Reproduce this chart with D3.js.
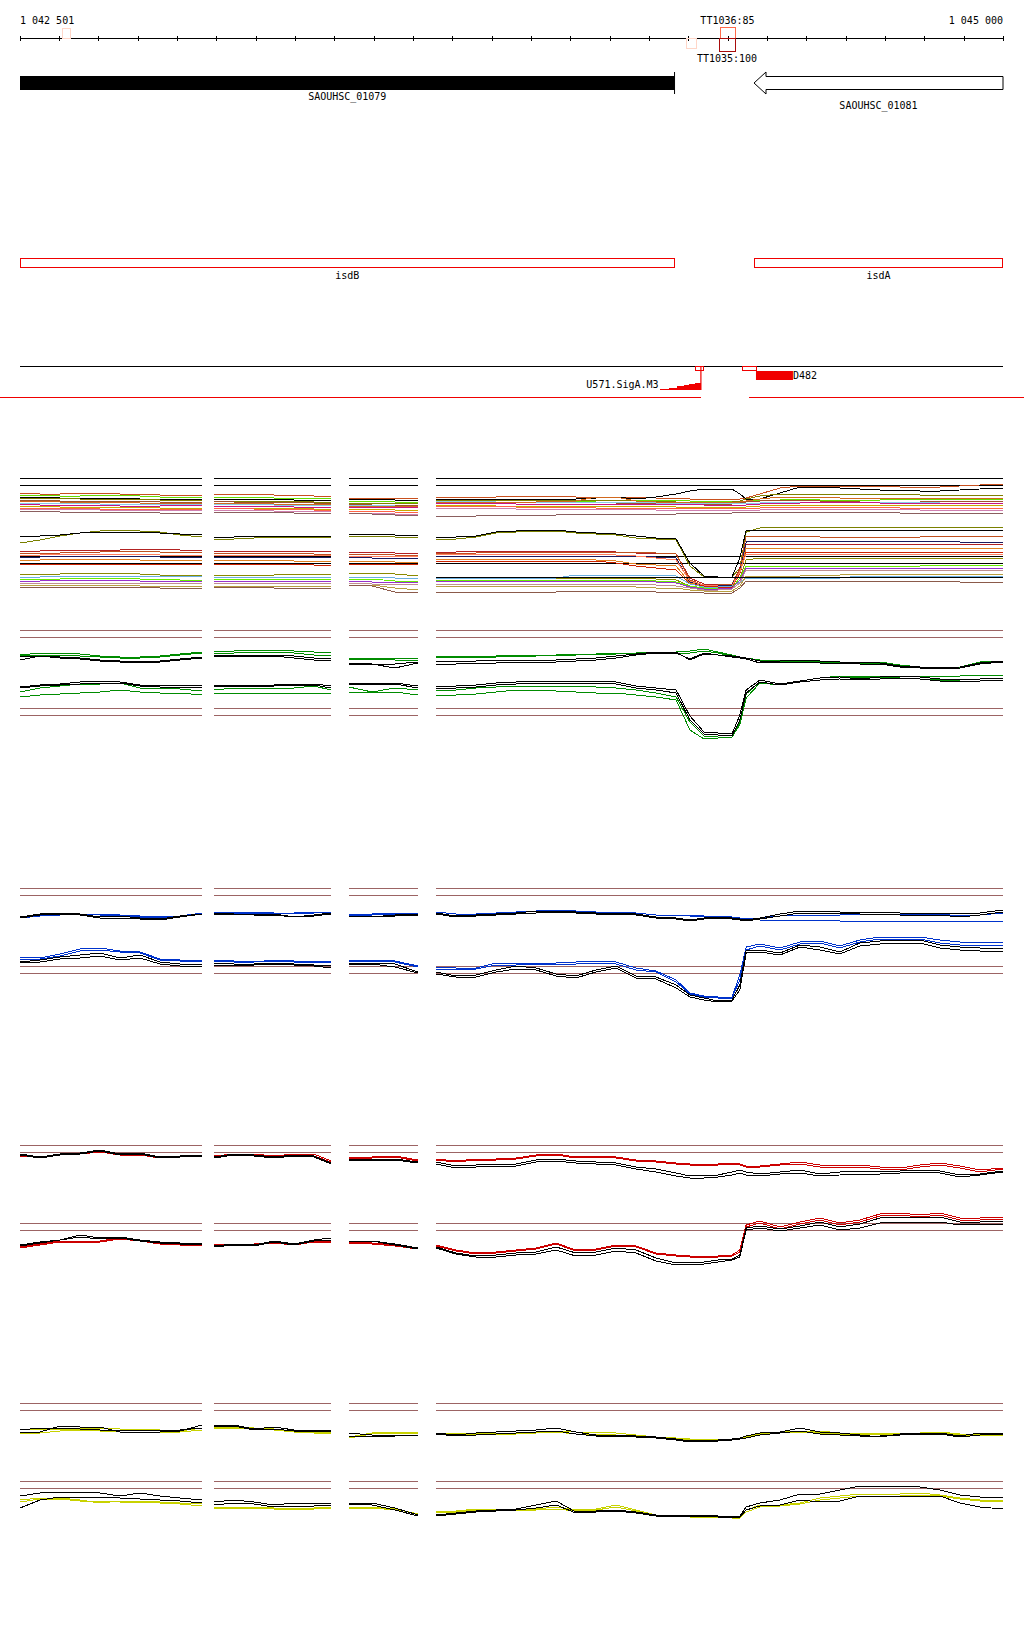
<!DOCTYPE html>
<html><head><meta charset="utf-8">
<script src="https://cdn.jsdelivr.net/npm/d3@7"></script>
<style>
body{margin:0;background:#fff}
svg{display:block}
text{font-family:"DejaVu Sans Mono",monospace;font-size:10px;fill:#000}
</style>
</head><body>
<svg id="c" width="1024" height="1640"></svg>
<script>
// ---------- genomic axis ----------
const axisStart = 1042501, axisEnd = 1045000;
const tickValues = [1042501].concat(d3.range(1042600, 1045001, 100));
const axisLabelPos = [1042501, 1045000];
const axisLabelText = ["1 042 501", "1 045 000"];

// ---------- annotations ----------
const geneNames = ["SAOUHSC_01079", "SAOUHSC_01081"];
const geneStarts = [1042501, 1044367];
const geneEnds = [1044165, 1045000];
const geneStrands = [1, -1];
const isdNames = ["isdB", "isdA"];
const termNames = ["TT1036:85", "TT1035:100"];
const termStarts = [1044280, 1044278];
const termEnds = [1044319, 1044319];
const termColors = ["#ff6a4a", "#a80c0c"];
const faintStarts = [1042608, 1044194];
const faintEnds = [1042628, 1044220];
const promoterName = "U571.SigA.M3";
const promoterSteps = [1044127, 1044150, 1044171, 1044188, 1044201, 1044218, 1044232];
const promoterScores = [1.4, 2.4, 3.7, 4.7, 6, 7];
const promoterBox = [1044217, 1044237];
const tssName = "D482";
const tssBox = [1044336, 1044372];
const tssBar = [1044372, 1044466];
const redGap = [1044232, 1044354];

// ---------- probe positions (bp) ----------
const positions = [
 1042501,1042552,1042603,1042654,1042704,1042755,1042806,1042857,1042908,1042964,
 1042994,1043045,1043096,1043147,1043198,1043248,1043292,
 1043337,1043396,1043454,1043513,
 1043559,1043609,1043660,1043711,1043762,1043813,1043864,1043914,1043965,1044016,
 1044067,1044118,1044169,1044204,1044240,1044275,1044311,1044331,1044347,1044382,
 1044433,1044484,1044535,1044585,1044636,1044687,1044738,1044789,1044840,1044890,
 1044941,1045000];
const segmentSizes = [10, 7, 4, 32];
const thresholds = [120, 113, 42, 35];

// ---------- group 1 : many conditions ----------
const multiColors = ["#c8501e","#66dd00","#000000","#808000","#a0522d","#87ceeb","#c71585","#c8a800","#ff6347","#d080b0","#8b5f5f","#d2691e",
 "#7a8000","#000000","#b22222","#c0501e","#1a1a5e","#e08020","#cc2200","#ff8060","#8a8a00","#6ab0e0","#66ee00","#9932cc","#c09090","#b8a040","#8b5a4a","#000000"];
const multiSeries = [
[105,104,104,105,105,104,104,103,103,103, 104,104,104,103,103,102,102, 100,100,100,99, 101,101,101,101,102,102,102,101,101,101,101,100,100,99,99,99,99,99,100,104,110,112,112,112,112,112,111,111,111,112,113,114],
[103,103,102,102,103,103,102,101,101,101, 101,101,101,100,100,100,100, 97,97,96,96, 98,98,98,98,98,97,97,97,97,98,98,98,98,97,97,97,97,97,97,98,98,99,98,98,98,98,99,99,99,99,99,99],
[101,101,100,100,100,100,99,99,99,99, 99,99,99,99,98,98,98, 99,99,98,98, 99,99,99,99,99,99,99,99,100,101,99,101,104,107,109,109,109,104,99,99,105,111,111,110,109,108,108,107,107,108,109,110],
[100,100,100,99,99,99,99,98,98,98, 97,97,97,97,97,96,96, 95,95,95,94, 98,98,98,98,98,98,98,98,98,98,97,97,96,95,95,95,96,97,99,102,104,104,104,104,104,104,104,103,103,103,103,103],
[98,98,97,97,97,97,97,96,96,96, 97,96,96,96,96,95,95, 94,93,93,93, 97,97,97,96,96,96,96,96,96,95,95,95,95,94,94,94,94,95,96,97,98,98,97,97,96,96,96,96,97,97,97,97],
[95,95,95,95,94,94,94,94,94,94, 94,94,94,93,93,93,93, 93,93,92,92, 97,97,97,96,96,96,96,96,96,96,96,95,95,95,95,95,95,95,95,95,96,96,96,96,96,96,96,96,95,95,95,95],
[94,93,93,93,93,92,92,92,93,93, 92,92,92,92,91,91,91, 91,91,91,90, 95,95,95,95,94,94,94,94,94,94,94,94,94,94,93,93,93,93,93,94,95,95,96,96,96,95,95,95,95,95,95,95],
[92,92,91,91,91,91,91,90,90,90, 90,90,90,90,90,89,89, 89,89,88,87, 93,93,93,92,92,92,92,92,92,92,92,92,91,91,91,91,91,91,91,92,93,93,93,93,93,93,93,93,93,93,93,93],
[90,90,90,90,89,89,89,89,89,89, 90,90,89,89,89,88,88, 87,87,86,86, 92,92,92,92,91,91,91,91,90,90,90,90,90,90,90,90,90,90,90,90,91,91,91,91,91,91,90,90,90,90,90,90],
[89,89,89,89,88,88,88,88,88,88, 88,88,88,87,87,87,87, 85,85,84,84, 90,90,90,90,89,89,89,89,89,89,89,88,88,88,88,88,88,88,88,88,89,89,89,89,89,89,89,88,88,88,88,88],
[87,87,86,86,86,86,86,85,85,85, 86,86,86,86,85,85,84, 85,84,83,83, 82,82,82,83,83,83,83,84,84,84,84,84,84,85,85,85,85,86,86,86,86,86,86,86,86,86,85,85,85,85,85,85],
[97,97,96,96,96,96,95,95,95,95, 95,95,95,94,94,94,94, 92,92,92,91, 96,96,96,96,96,96,97,97,101,101,97,96,96,96,96,96,96,96,97,99,101,101,101,100,100,100,100,100,100,100,100,100],
[55,58,62,65,67,68,67,66,63,61, 58,59,60,61,61,61,61, 62,62,61,60, 59,59,61,65,66,67,67,65,64,63,60,59,58,32,21,21,21,30,66,70,71,71,71,71,71,71,71,71,71,71,71,71],
[62,62,63,65,66,66,66,65,64,63, 61,61,62,62,62,62,62, 64,64,63,63, 61,61,62,66,67,68,68,66,65,64,62,60,59,35,22,21,21,40,68,68,68,68,68,68,68,68,68,68,68,68,68,68],
[46,47,48,48,48,48,49,49,48,48, 47,47,47,47,47,47,47, 46,46,45,45, 46,46,47,47,47,47,47,47,47,46,45,45,44,20,14,14,14,30,54,54,54,54,54,54,54,54,54,54,54,54,54,54],
[44,45,45,46,46,47,47,46,46,45, 45,45,45,45,45,44,44, 44,44,43,43, 45,45,45,46,46,46,46,46,46,46,46,45,44,18,13,13,14,28,62,62,62,62,61,61,61,61,61,61,62,62,62,62],
[41,41,42,42,42,42,42,41,41,41, 41,41,41,41,41,41,41, 41,40,40,39, 42,42,42,42,42,42,42,42,42,42,42,41,40,16,12,12,13,26,56,57,57,57,57,57,57,57,57,57,57,56,56,56],
[38,38,39,39,39,39,38,38,38,37, 38,38,38,38,37,37,37, 37,37,36,36, 39,39,39,39,39,39,39,39,38,37,34,33,32,15,12,11,12,25,50,50,50,50,50,50,50,50,50,50,50,50,50,50],
[34,34,34,34,34,34,34,34,34,34, 34,34,34,34,34,33,33, 34,34,34,34, 37,37,37,37,37,37,37,37,37,35,32,30,28,14,12,11,11,24,46,46,46,46,46,46,46,46,46,46,46,46,46,46],
[43,43,44,44,44,44,44,43,43,43, 43,43,43,43,43,43,43, 42,42,42,42, 44,44,44,44,44,44,44,44,44,43,42,40,38,17,13,12,12,26,44,44,44,44,44,44,44,44,44,44,44,44,44,44],
[24,24,24,25,25,25,24,23,23,23, 23,23,23,23,24,24,24, 25,25,24,22, 20,20,20,20,20,20,20,20,20,20,20,19,18,12,10,10,10,20,38,40,40,40,40,40,40,40,40,40,40,40,40,40],
[21,21,22,22,22,22,22,22,22,21, 21,21,21,21,21,21,21, 21,21,20,20, 20,20,20,20,20,20,20,23,23,23,23,23,22,14,11,11,12,16,20,20,20,20,20,20,22,22,22,22,22,22,22,22],
[19,19,19,20,20,20,19,19,18,18, 19,19,19,19,19,19,19, 19,19,17,16, 18,18,18,18,18,18,18,18,18,18,18,17,16,12,10,10,10,20,32,32,32,32,32,32,32,32,32,32,33,33,33,33],
[17,17,18,18,18,18,17,17,17,17, 17,17,17,17,17,17,17, 17,16,16,15, 17,17,17,17,17,17,17,17,17,17,17,16,15,11,9,9,10,18,30,30,30,30,30,30,30,30,30,30,30,30,30,30],
[15,15,15,15,15,15,15,15,15,15, 15,15,15,15,15,15,15, 15,14,14,13, 14,14,14,14,14,14,14,14,14,14,14,13,12,10,8,8,9,15,28,28,28,28,28,28,28,28,28,28,28,28,28,28],
[13,13,13,13,13,13,12,12,12,12, 12,12,12,12,12,12,12, 13,13,10,8, 12,12,12,12,12,12,12,12,12,12,11,10,10,8,7,7,7,12,22,22,22,22,23,23,24,24,24,24,24,24,24,24],
[11,11,11,11,11,11,11,10,10,10, 11,11,11,10,10,10,9, 13,12,6,5, 6,6,6,6,6,6,6,7,7,7,7,6,6,6,5,5,5,10,17,17,17,17,17,17,17,17,17,17,17,16,16,16],
[null,null,null,null,null,null,null,null,null,null, null,null,null,null,null,null,null, null,null,null,null, 21,21,21,21,21,21,21,21,21,21,21,21,21,21,21,21,21,21,21,21,21,21,21,21,21,21,21,21,21,21,21,21]
];

// ---------- group 2 : green ----------
const greenColors = ["#008c00","#008c00","#000000","#000000","#008c00","#008c00","#000000","#000000"];
const greenSeries = [
[95,97,97,96,94,93,93,94,96,98, 98,99,100,100,99,98,97, 92,92,92,91, 94,94,94,94,95,95,95,96,96,97,97,98,98,99,101,98,95,93,92,90,89,89,89,88,88,88,85,83,83,83,88,89],
[94,95,95,94,93,92,92,93,95,97, 96,97,98,98,97,95,94, 91,91,90,89, 93,93,93,93,94,94,95,95,96,96,97,97,97,97,99,97,94,93,92,89,89,88,88,87,87,86,83,82,81,82,86,89],
[93,94,93,92,90,89,88,89,91,93, 94,95,95,95,94,92,91, 87,86,86,88, 89,89,89,90,90,90,90,91,92,94,96,98,98,90,96,95,94,93,92,89,89,90,89,88,88,87,84,83,82,83,87,89],
[90,94,92,91,89,88,87,88,90,92, 93,94,94,94,92,90,89, 86,86,82,87, 85,86,87,87,88,88,88,89,90,92,95,97,97,91,97,95,93,92,91,87,88,88,87,87,86,86,83,82,82,82,86,88],
[58,62,64,66,66,67,62,62,61,59, 60,62,61,62,62,64,60, 63,58,62,60, 60,60,62,63,64,64,64,64,63,62,60,57,53,28,14,13,13,28,56,68,65,69,72,74,74,73,72,71,70,70,71,72],
[53,55,56,57,58,60,58,57,57,55, 56,57,57,57,57,57,57, 58,57,58,55, 54,55,56,58,60,60,59,58,57,57,55,53,50,20,11,12,13,25,52,67,65,69,72,73,73,73,73,74,74,74,75,75],
[63,65,66,68,69,68,65,65,65,65, 64,65,65,65,66,66,64, 67,67,67,64, 63,64,65,67,68,69,69,69,69,68,64,62,60,34,18,17,16,35,60,70,66,69,72,73,71,73,74,73,71,70,71,72],
[62,64,65,66,67,67,64,63,63,63, 63,64,64,64,65,65,62, 66,66,66,62, 61,62,63,65,66,67,67,67,67,66,62,60,57,30,16,15,14,30,57,68,65,68,70,71,70,71,72,71,69,69,69,70]
];

// ---------- group 3 : blue ----------
const blueColors = ["#0033cc","#0033cc","#000000","#000000","#0033cc","#0033cc","#000000","#000000"];
const blueSeries = [
[90,92,93,94,93,92,91,90,91,95, 96,96,96,95,95,96,96, 93,94,95,95, 96,94,94,95,96,97,98,97,96,96,95,93,93,92,92,92,91,90,89,88,88,88,88,87,87,87,87,87,87,87,87,87],
[91,93,94,94,94,93,92,91,92,95, 95,95,95,95,94,95,96, 93,93,94,95, 96,94,94,95,96,97,98,97,96,96,95,93,93,93,92,92,91,90,89,90,92,93,93,93,94,94,94,94,94,92,93,95],
[91,94,95,94,91,92,90,89,92,94, 95,94,94,94,91,93,95, 92,91,93,94, 95,92,93,94,95,97,97,96,95,95,94,91,90,88,90,91,90,89,88,90,94,97,97,96,95,96,95,94,95,94,95,98],
[90,93,94,93,90,90,89,88,91,94, 94,94,93,93,91,92,94, 92,91,92,93, 94,91,92,93,94,95,96,95,94,94,93,90,89,87,89,90,89,88,87,89,92,95,95,95,94,94,93,92,93,91,93,96],
[51,50,54,59,60,57,56,49,48,48, 48,47,46,48,47,47,47, 48,48,47,42, 41,40,40,45,45,45,45,46,47,46,40,37,28,15,12,11,11,33,61,64,60,66,67,62,68,71,71,71,68,66,66,66],
[48,49,52,57,58,56,55,48,47,46, 47,46,46,47,46,46,46, 47,47,46,41, 39,38,39,43,43,44,44,44,45,44,38,36,26,14,11,10,10,28,58,62,58,64,65,60,66,69,69,69,65,63,63,63],
[46,48,51,53,55,50,53,46,44,43, 45,44,44,45,44,43,42, 45,45,44,36, 36,32,33,38,42,40,34,32,38,42,32,31,23,13,10,7,8,23,58,58,55,63,61,56,65,67,68,68,63,61,60,60],
[45,46,49,50,52,48,50,44,42,42, 42,43,43,44,43,42,40, 44,44,41,35, 34,31,31,36,39,38,32,30,36,40,30,29,20,11,8,6,7,18,55,56,53,61,58,54,62,64,65,65,60,58,57,57]
];

// ---------- group 4 : red ----------
const redColors = ["#cc0000","#cc0000","#000000","#000000","#cc0000","#cc0000","#000000","#000000"];
const redSeries = [
[110,108,111,112,114,111,111,108,108,109, 109,111,111,109,111,111,104, 108,108,109,105, 106,104,106,106,107,110,111,108,109,108,105,104,102,101,100,101,102,101,99,99,101,103,100,100,100,98,97,100,102,99,95,97],
[109,108,110,111,113,110,110,107,108,110, 108,110,110,108,110,109,103, 107,107,108,104, 105,103,105,105,106,109,110,107,108,107,104,103,101,100,99,100,101,100,98,98,100,101,98,98,98,96,95,98,100,97,93,96],
[111,108,111,112,115,111,112,108,109,110, 108,111,110,108,110,109,102, 106,105,106,103, 103,99,100,101,101,105,106,104,103,102,98,96,92,89,90,90,93,95,93,91,93,95,91,93,94,94,94,95,94,90,91,94],
[110,107,110,111,114,110,111,107,108,109, 107,110,109,107,109,108,101, 105,104,105,102, 101,97,98,99,99,103,104,102,101,100,96,93,89,87,87,88,90,92,90,89,91,92,89,90,91,91,92,93,92,88,90,93],
[18,21,24,24,24,27,25,22,21,20, 20,21,21,23,21,24,23, 23,22,20,17, 20,15,12,13,15,17,22,15,16,20,19,12,10,9,9,9,10,15,40,44,38,43,47,42,45,51,52,50,52,47,47,48],
[17,20,23,23,23,26,24,21,20,19, 19,20,20,22,20,23,22, 22,21,19,16, 19,14,11,12,14,16,21,14,15,19,18,11,9,8,8,8,9,13,38,42,36,41,45,40,43,49,50,48,50,45,45,46],
[20,23,25,30,27,28,25,23,22,22, 19,21,20,24,21,25,27, 24,24,21,17, 18,12,9,10,12,13,18,12,13,17,15,7,2,3,3,5,6,10,37,39,36,39,43,38,41,47,48,47,48,43,43,44],
[19,22,25,28,26,27,24,22,21,21, 18,20,19,23,20,24,25, 23,24,20,16, 17,11,8,8,10,11,15,9,10,14,12,4,0,1,1,3,5,8,35,37,34,37,40,35,37,42,43,43,43,40,41,41]
];

// ---------- group 5 : yellow ----------
const yellowColors = ["#c8d200","#c8d200","#000000","#000000","#c8d200","#c8d200","#000000","#000000"];
const yellowSeries = [
[94,94,94,94,95,94,94,93,92,95, 96,96,95,94,92,91,91, 86,90,91,91, 90,90,90,90,90,91,92,91,91,90,88,86,85,84,84,84,84,85,87,89,91,92,92,90,90,90,90,90,91,89,89,89],
[90,90,92,93,92,91,91,91,91,93, 95,95,94,93,91,90,90, 85,89,90,90, 89,89,89,89,89,90,91,89,89,88,87,85,84,83,83,83,83,84,86,88,90,91,90,89,89,89,89,89,90,88,88,88],
[90,91,97,96,96,91,91,91,92,98, 98,98,94,96,93,93,93, 90,88,88,88, 90,88,90,91,92,93,95,91,88,88,87,86,84,82,83,83,84,85,87,90,91,95,91,90,88,86,89,90,90,87,90,90],
[93,95,95,94,93,92,93,93,93,95, 97,97,93,94,92,92,92, 86,87,87,88, 89,87,88,89,90,91,92,89,87,87,86,85,83,81,82,82,83,84,85,88,90,92,89,88,87,87,88,89,89,86,88,89],
[23,25,25,23,20,22,22,21,20,19, 16,16,16,15,15,15,16, 16,16,14,9, 12,12,14,14,14,14,16,13,14,18,13,8,8,7,7,7,6,6,13,18,18,20,25,27,29,29,29,30,28,25,23,23],
[21,24,24,22,22,21,21,20,19,17, 15,15,15,14,14,14,15, 15,15,13,7, 11,11,13,13,13,13,14,12,13,16,12,7,7,6,6,6,5,5,11,16,17,19,23,25,27,27,27,28,27,24,22,22],
[27,30,31,31,30,27,30,27,25,23, 21,23,21,18,20,19,20, 20,20,15,8, 8,10,12,13,14,18,22,11,12,13,11,8,8,8,8,7,6,7,16,20,23,29,29,33,37,37,37,36,33,28,26,26],
[15,23,26,26,26,25,24,23,22,20, 18,20,19,16,17,17,18, 19,18,13,7, 7,9,11,12,13,15,18,10,11,12,10,7,7,7,7,6,5,6,13,17,18,23,21,22,27,27,27,27,27,20,16,14]
];

// ================= drawing =================
const svg = d3.select("#c");
const x = d3.scaleLinear().domain([axisStart, axisEnd]).range([20, 1003]);

// axis
const axisG = svg.append("g").attr("transform", "translate(0,36)")
  .call(d3.axisBottom(x).tickValues(tickValues).tickSize(5).tickFormat(""));
axisG.select(".domain").remove();
axisG.selectAll("line").attr("stroke", "#000").attr("shape-rendering", "crispEdges");
svg.append("line").attr("x1", x(axisStart)).attr("x2", x(axisEnd)).attr("y1", 38.5).attr("y2", 38.5)
  .attr("stroke", "#000").attr("shape-rendering", "crispEdges");
svg.selectAll("text.axl").data(axisLabelPos).join("text").attr("class", "axl")
  .attr("x", d => x(d)).attr("y", 24)
  .attr("text-anchor", (d, i) => i === 0 ? "start" : "end")
  .text((d, i) => axisLabelText[i]);

// faint boxes
faintStarts.forEach((s, i) => {
  svg.append("rect").attr("x", x(s) + 0.5).attr("y", i === 0 ? 28.5 : 38.5)
    .attr("width", x(faintEnds[i]) - x(s)).attr("height", 10)
    .attr("fill", "none").attr("stroke", "#ffd6c8").attr("shape-rendering", "crispEdges");
});
// terminators
termNames.forEach((n, i) => {
  const x0 = x(termStarts[i]), x1 = x(termEnds[i]);
  const top = i === 0 ? 27.5 : 38.5, h = i === 0 ? 11 : 13;
  svg.append("rect").attr("x", x0 + 0.5).attr("y", top).attr("width", x1 - x0).attr("height", h)
    .attr("fill", "none").attr("stroke", termColors[i]).attr("shape-rendering", "crispEdges");
  svg.append("text").attr("x", (x0 + x1) / 2).attr("y", i === 0 ? 24 : 62)
    .attr("text-anchor", "middle").text(n);
});

// genes
geneNames.forEach((n, i) => {
  const x0 = x(geneStarts[i]), x1 = x(geneEnds[i]);
  if (geneStrands[i] > 0) {
    svg.append("rect").attr("x", x0).attr("y", 76).attr("width", x1 - x0).attr("height", 14).attr("fill", "#000");
    svg.append("line").attr("x1", x1).attr("x2", x1).attr("y1", 72).attr("y2", 94).attr("stroke", "#000");
    svg.append("text").attr("x", (x0 + x1) / 2).attr("y", 100).attr("text-anchor", "middle").text(n);
  } else {
    const hx = x0 + 12;
    const pts = [[x0, 83], [hx, 72], [hx, 76.5], [x1, 76.5], [x1, 89.5], [hx, 89.5], [hx, 94]];
    svg.append("polygon").attr("points", pts.map(p => p.join(",")).join(" "))
      .attr("fill", "#fff").attr("stroke", "#000").attr("stroke-width", 1);
    svg.append("text").attr("x", (x0 + x1) / 2).attr("y", 109).attr("text-anchor", "middle").text(n);
  }
});

// isd features
isdNames.forEach((n, i) => {
  const x0 = x(geneStarts[i]), x1 = x(geneEnds[i]);
  svg.append("rect").attr("x", x0 + 0.5).attr("y", 258.5).attr("width", x1 - x0 - 1).attr("height", 9)
    .attr("fill", "none").attr("stroke", "#f00000").attr("shape-rendering", "crispEdges");
  svg.append("text").attr("x", (x0 + x1) / 2).attr("y", 279).attr("text-anchor", "middle").text(n);
});

// promoter / TSS track
svg.append("line").attr("x1", x(axisStart)).attr("x2", x(axisEnd)).attr("y1", 366.5).attr("y2", 366.5)
  .attr("stroke", "#000").attr("shape-rendering", "crispEdges");
svg.append("line").attr("x1", 0).attr("x2", x(redGap[0])).attr("y1", 397.5).attr("y2", 397.5)
  .attr("stroke", "#f00000").attr("shape-rendering", "crispEdges");
svg.append("line").attr("x1", x(redGap[1])).attr("x2", 1024).attr("y1", 397.5).attr("y2", 397.5)
  .attr("stroke", "#f00000").attr("shape-rendering", "crispEdges");
const ps = d3.scaleLinear().domain([0, 7]).range([390, 383]);
const rampPts = [];
promoterScores.forEach((v, i) => { rampPts.push([x(promoterSteps[i]), ps(v)], [x(promoterSteps[i + 1]), ps(v)]); });
const lastX = x(promoterSteps[promoterSteps.length - 1]);
rampPts.push([lastX, ps(0)], [x(promoterSteps[0]), ps(0)]);
svg.append("polygon").attr("points", rampPts.map(p => p.join(",")).join(" ")).attr("fill", "#f00000")
  .attr("shape-rendering", "crispEdges");
svg.append("line").attr("x1", lastX).attr("x2", lastX).attr("y1", 366).attr("y2", 390)
  .attr("stroke", "#f00000").attr("stroke-width", 1.2);
svg.append("rect").attr("x", x(promoterBox[0]) + 0.5).attr("y", 366.5).attr("width", x(promoterBox[1]) - x(promoterBox[0]))
  .attr("height", 4).attr("fill", "none").attr("stroke", "#f00000").attr("shape-rendering", "crispEdges");
svg.append("text").attr("x", x(promoterSteps[0]) - 1).attr("y", 388).attr("text-anchor", "end").text(promoterName);
svg.append("rect").attr("x", x(tssBox[0]) + 0.5).attr("y", 366.5).attr("width", x(tssBox[1]) - x(tssBox[0]))
  .attr("height", 4).attr("fill", "none").attr("stroke", "#f00000").attr("shape-rendering", "crispEdges");
svg.append("rect").attr("x", x(tssBar[0])).attr("y", 371).attr("width", x(tssBar[1]) - x(tssBar[0]))
  .attr("height", 9).attr("fill", "#f00000");
svg.append("text").attr("x", x(tssBar[1])).attr("y", 379).text(tssName);

// expression groups
const groupTops = [468, 620, 878, 1135, 1393];
const groupSeries = [multiSeries, greenSeries, blueSeries, redSeries, yellowSeries];
const groupColors = [multiColors, greenColors, blueColors, redColors, yellowColors];
const ruleColors = ["#000000", "#9c6464", "#9c6464", "#9c6464", "#9c6464"];
const segBounds = [];
{ let acc = 0; segmentSizes.forEach(n => { segBounds.push([acc, acc + n]); acc += n; }); }

groupTops.forEach((top, gi) => {
  const y = d3.scaleLinear().domain([0, 130]).range([top + 130, top]);
  const g = svg.append("g");
  // threshold rules
  segBounds.forEach(([a, b]) => {
    thresholds.forEach(t => {
      g.append("line").attr("x1", x(positions[a])).attr("x2", x(positions[b - 1]))
        .attr("y1", Math.round(y(t)) + 0.5).attr("y2", Math.round(y(t)) + 0.5)
        .attr("stroke", ruleColors[gi]).attr("shape-rendering", "crispEdges");
    });
  });
  const line = d3.line().defined(d => d[1] != null).x(d => x(d[0])).y(d => y(d[1]));
  const order = d3.range(groupSeries[gi].length).sort((p, q) => {
    const bp = groupColors[gi][p] === "#000000" ? 1 : 0, bq = groupColors[gi][q] === "#000000" ? 1 : 0;
    return gi === 0 ? 0 : bp - bq;
  });
  order.forEach(si => {
    const vals = groupSeries[gi][si];
    segBounds.forEach(([a, b]) => {
      const pts = d3.range(a, b).map(k => [positions[k], vals[k]]);
      g.append("path").attr("d", line(pts)).attr("fill", "none")
        .attr("stroke", groupColors[gi][si]).attr("stroke-width", 1)
        .attr("shape-rendering", "crispEdges");
    });
  });
});
</script>
</body></html>
